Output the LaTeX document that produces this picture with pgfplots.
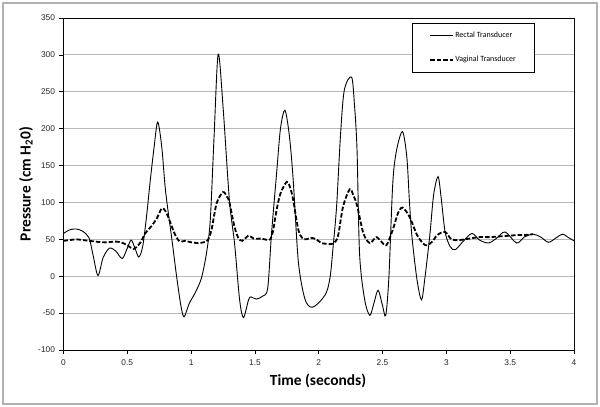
\documentclass[border=0pt]{standalone}
\usepackage{pgfplots}
\pgfplotsset{compat=1.18}
\usepackage{fontspec}
\setmainfont{Carlito}
\newfontfamily\arialf{Liberation Sans}
\begin{document}
\begin{tikzpicture}
\path (0,0) rectangle (600bp,407bp);
\draw[black!30, line width=1.2bp] (3bp,3bp) rectangle (597bp,404bp);
\begin{axis}[
  at={(63.5bp,57bp)}, anchor=south west,
  scale only axis, width=510.5bp, height=332bp,
  xmin=0, xmax=4, ymin=-100, ymax=350,
  xtick={0,0.5,...,4}, ytick={-100,-50,...,350},
  tick pos=left, tick align=outside, major tick length=4bp,
  tick style={black, line width=0.6bp},
  axis line style={black, line width=0.8bp},
  ymajorgrids, grid style={black!28, line width=0.8bp},
  /pgf/number format/assume math mode=true,
  ticklabel style={font=\arialf\fontsize{8.4}{10}\selectfont, text=black!85},
  xticklabel style={yshift=-2.5bp},
  yticklabel style={xshift=-1bp},
  xlabel={Time (seconds)}, ylabel={Pressure (cm H\textsubscript{2}0)},
  label style={font=\fontsize{15.5}{18}\selectfont\bfseries},
  xlabel style={at={(axis description cs:0.4985,-0.0934)}, anchor=center},
  ylabel style={at={(axis description cs:-0.0735,0.5)}, anchor=center},
  legend style={draw=black, line width=0.6bp, at={(0.683,0.985)}, anchor=north west,
    inner xsep=17bp, inner ysep=8bp, row sep=15bp,
    font=\fontsize{8}{9}\selectfont, nodes={inner sep=1bp},
    /tikz/every even column/.append style={column sep=2bp}},
  legend cell align=left,
  legend image code/.code={\draw[#1] (0bp,0bp) -- (23bp,0bp);},
]
\addplot[black, line width=0.9bp, smooth, tension=0.5] coordinates {
(0,58) (0.05,63) (0.1,64) (0.15,61) (0.2,52) (0.23,30) (0.27,1) (0.31,25) (0.36,38)
(0.41,34) (0.46,24) (0.5,38) (0.53,49) (0.56,38) (0.59,26) (0.62,40) (0.65,80)
(0.68,130) (0.71,175) (0.738,209) (0.77,175) (0.8,115) (0.85,49) (0.886,0) (0.92,-40)
(0.945,-55) (0.985,-37) (1.03,-23) (1.08,-3) (1.12,31) (1.15,76) (1.18,190) (1.212,301)
(1.25,230) (1.30,103) (1.34,45) (1.38,-32) (1.41,-56) (1.45,-32) (1.47,-28) (1.51,-31)
(1.56,-27) (1.60,-16) (1.63,58) (1.67,140) (1.70,200) (1.735,225) (1.77,190) (1.80,130)
(1.84,20) (1.89,-30) (1.94,-42) (2.0,-36) (2.06,-22) (2.09,0) (2.11,35) (2.14,95)
(2.17,190) (2.20,252) (2.257,270) (2.28,232) (2.30,171) (2.32,30) (2.36,-32) (2.40,-53)
(2.43,-38) (2.465,-19) (2.50,-40) (2.525,-53) (2.55,0) (2.58,126) (2.61,171) (2.656,196)
(2.69,162) (2.71,103) (2.73,54) (2.77,-5) (2.805,-32) (2.83,-5) (2.87,55) (2.90,110)
(2.935,135) (2.96,105) (2.99,60) (3.03,40) (3.07,36) (3.13,47) (3.20,58) (3.26,49)
(3.33,45) (3.39,51) (3.46,60) (3.55,45) (3.61,53) (3.68,57) (3.74,53) (3.80,46)
(3.86,52) (3.91,57) (3.96,52) (4.0,48)
};
\addlegendentry{Rectal Transducer}
\addplot[black, line width=1.8bp, dash pattern=on 4.5bp off 2bp, smooth, tension=0.5] coordinates {
(0,48) (0.05,49) (0.1,50) (0.15,49) (0.2,48) (0.25,47) (0.3,46) (0.35,46) (0.4,47)
(0.45,46) (0.5,42) (0.55,37) (0.6,45) (0.64,58) (0.68,66) (0.73,78) (0.77,92) (0.8,88)
(0.83,76) (0.87,58) (0.91,47) (0.95,48) (1.0,46) (1.05,45) (1.1,46) (1.13,49) (1.16,63)
(1.2,99) (1.25,114) (1.28,108) (1.3,100) (1.34,67) (1.37,52) (1.40,48) (1.45,55)
(1.49,51) (1.55,51) (1.6,49) (1.62,50) (1.64,60) (1.67,90) (1.70,112) (1.75,128)
(1.78,118) (1.80,103) (1.84,63) (1.87,52) (1.9,50) (1.94,52) (1.98,50) (2.02,45)
(2.06,44) (2.11,44) (2.15,54) (2.19,94) (2.243,118) (2.27,110) (2.30,96) (2.35,58)
(2.40,45) (2.45,53) (2.49,47) (2.53,42) (2.58,63) (2.62,85) (2.656,93) (2.71,81)
(2.77,56) (2.82,44) (2.85,42) (2.89,47) (2.93,56) (2.99,60) (3.04,50) (3.1,49)
(3.18,51) (3.26,53) (3.34,53) (3.42,54) (3.5,55) (3.57,56) (3.62,56) (3.68,57)
};
\addlegendentry{Vaginal Transducer}
\draw[black!55, line width=1bp] (rel axis cs:1,0) -- (rel axis cs:1,1);
\end{axis}
\end{tikzpicture}
\end{document}
